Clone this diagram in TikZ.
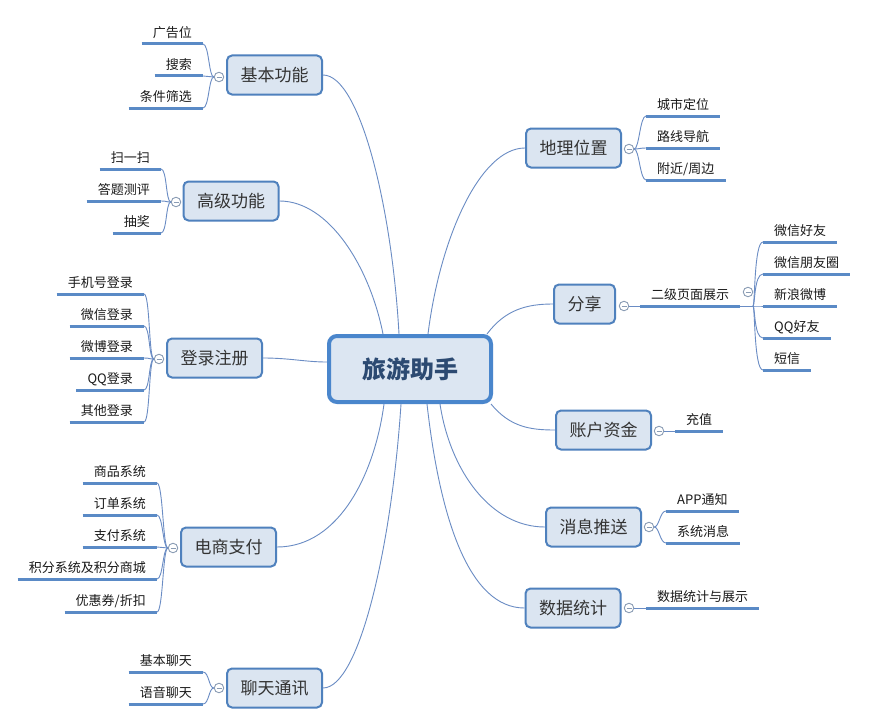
\documentclass[tikz,border=0pt]{standalone}
\usepackage{fontspec}
\setmainfont{Noto Sans CJK SC}
\definecolor{boxfill}{HTML}{DBE5F1}
\definecolor{boxdraw}{HTML}{4F81BD}
\definecolor{rootfill}{HTML}{DCE6F2}
\definecolor{rootdraw}{HTML}{4A86CC}
\definecolor{roottext}{HTML}{2C4A72}
\definecolor{topictext}{HTML}{333333}
\definecolor{leaftext}{HTML}{1A1A1A}
\definecolor{ulinecol}{HTML}{5A8AC6}
\definecolor{conncol}{HTML}{6A8CC4}
\definecolor{collcol}{HTML}{8A9CB4}
\begin{document}
\begin{tikzpicture}[x=1pt,y=-1pt,
  rootbox/.style={draw=rootdraw, fill=rootfill, line width=4pt, rounded corners=8pt,
    minimum width=162pt, minimum height=66pt, inner sep=0pt,
    font=\fontsize{24}{28}\selectfont\bfseries, text=roottext},
  topic/.style={draw=boxdraw, fill=boxfill, line width=2pt, rounded corners=5pt,
    minimum height=39pt, inner xsep=13.5pt, inner ysep=0pt,
    font=\fontsize{17}{20}\selectfont, text=topictext},
  leaf/.style={inner xsep=11pt, inner ysep=3pt, text height=10pt, text depth=3.5pt,
    font=\fontsize{13}{15}\selectfont, text=leaftext},
  lleaf/.style={leaf, anchor=south east},
  rleaf/.style={leaf, anchor=south west},
  uline/.style={draw=ulinecol, line width=3pt},
  conn/.style={draw=conncol, line width=0.9pt},
  coll/.style={circle, draw=collcol, fill=white, line width=0.9pt, minimum size=9.5pt, inner sep=0pt,
    path picture={\draw[collcol, line width=0.8pt] ([xshift=-2.5pt]path picture bounding box.center) -- ([xshift=2.5pt]path picture bounding box.center);}}
]
\useasboundingbox[fill=white] (0,0) rectangle (870,725);

% root
\node[rootbox] (root) at (410,369) {旅游助手};

% topics
\node[topic] (t1) at (274.5,75) {基本功能};
\node[topic] (t2) at (231,201) {高级功能};
\node[topic] (t3) at (214.5,358) {登录注册};
\node[topic] (t4) at (228.5,547) {电商支付};
\node[topic] (t5) at (274.5,688) {聊天通讯};
\node[topic] (t6) at (573.5,148) {地理位置};
\node[topic] (t7) at (584.5,304) {分享};
\node[topic] (t8) at (603.5,430) {账户资金};
\node[topic] (t9) at (593.5,527) {消息推送};
\node[topic] (t10) at (573,608) {数据统计};

% main connectors
\draw[conn] ([xshift=-11pt]root.north) .. controls +(-7,-126) and +(37,0) .. (t1.east);
\draw[conn] ([xshift=-27pt]root.north) .. controls +(-13,-66) and +(50,0) .. (t2.east);
\draw[conn] ([yshift=7pt]root.west) .. controls +(-22,0) and +(27,0) .. (t3.east);
\draw[conn] ([xshift=-26pt]root.south) .. controls +(-9,68) and +(63,0) .. (t4.east);
\draw[conn] ([xshift=-9pt]root.south) .. controls +(-9,138) and +(37,0) .. (t5.east);
\draw[conn] ([xshift=18pt]root.north) .. controls +(12,-96) and +(-45,0) .. (t6.west);
\draw[conn] ([xshift=-6pt]root.north east) .. controls +(18,-24) and +(-27,0) .. (t7.west);
\draw[conn] ([xshift=-2pt]root.south east) .. controls +(19,23) and +(-25,0) .. (t8.west);
\draw[conn] ([xshift=30pt]root.south) .. controls +(10,66) and +(-55,0) .. (t9.west);
\draw[conn] ([xshift=17pt]root.south) .. controls +(13,116) and +(-55,0) .. (t10.west);

% leaves left
\node[lleaf] (l1a) at (203,44) {广告位};
\node[lleaf] (l1b) at (203,76) {搜索};
\node[lleaf] (l1c) at (203,108) {条件筛选};

\node[lleaf] (l2a) at (161,169) {扫一扫};
\node[lleaf] (l2b) at (161,201) {答题测评};
\node[lleaf] (l2c) at (161,233) {抽奖};

\node[lleaf] (l3a) at (144,294) {手机号登录};
\node[lleaf] (l3b) at (144,326) {微信登录};
\node[lleaf] (l3c) at (144,358) {微博登录};
\node[lleaf] (l3d) at (144,390) {QQ登录};
\node[lleaf] (l3e) at (144,422) {其他登录};

\node[lleaf] (l4a) at (157,483) {商品系统};
\node[lleaf] (l4b) at (157,515) {订单系统};
\node[lleaf] (l4c) at (157,547) {支付系统};
\node[lleaf] (l4d) at (157,579) {积分系统及积分商城};
\node[lleaf] (l4e) at (157,612) {优惠券/折扣};

\node[lleaf] (l5a) at (203,672) {基本聊天};
\node[lleaf] (l5b) at (203,704) {语音聊天};

% leaves right
\node[rleaf] (l6a) at (646,116) {城市定位};
\node[rleaf] (l6b) at (646,148) {路线导航};
\node[rleaf] (l6c) at (646,180) {附近/周边};

\node[rleaf] (l7) at (640,306) {二级页面展示};
\node[rleaf] (l7a) at (763,242) {微信好友};
\node[rleaf] (l7b) at (763,274) {微信朋友圈};
\node[rleaf] (l7c) at (763,306) {新浪微博};
\node[rleaf] (l7d) at (763,338) {QQ好友};
\node[rleaf] (l7e) at (763,370) {短信};

\node[rleaf] (l8) at (675,431) {充值};

\node[rleaf] (l9a) at (666,511) {APP通知};
\node[rleaf] (l9b) at (666,543) {系统消息};

\node[rleaf] (l10) at (646,608) {数据统计与展示};

% underlines
\foreach \n in {l1a,l1b,l1c,l2a,l2b,l2c,l3a,l3b,l3c,l3d,l3e,l4a,l4b,l4c,l4d,l4e,l5a,l5b,
  l6a,l6b,l6c,l7,l7a,l7b,l7c,l7d,l7e,l8,l9a,l9b,l10}
  \draw[uline] (\n.south west) -- (\n.south east);

% collapse circles
\node[coll] (c1) at (219,77) {};
\node[coll] (c2) at (176,202) {};
\node[coll] (c3) at (159,359) {};
\node[coll] (c4) at (173,548) {};
\node[coll] (c5) at (219,688) {};
\node[coll] (c6) at (629,149) {};
\node[coll] (c7) at (624,306) {};
\node[coll] (c7b) at (748,292) {};
\node[coll] (c8) at (659,431) {};
\node[coll] (c9) at (649,527) {};
\node[coll] (c10) at (629,608) {};
\coordinate (j7) at (753,306);

% brackets left
\foreach \n in {l1a,l1b,l1c} \draw[conn] (c1.west) .. controls +(-5,0) and +(6,0) .. (\n.south east);
\foreach \n in {l2a,l2b,l2c} \draw[conn] (c2.west) .. controls +(-5,0) and +(6,0) .. (\n.south east);
\foreach \n in {l3a,l3b,l3c,l3d,l3e} \draw[conn] (c3.west) .. controls +(-5,0) and +(6,0) .. (\n.south east);
\foreach \n in {l4a,l4b,l4c,l4d,l4e} \draw[conn] (c4.west) .. controls +(-5,0) and +(6,0) .. (\n.south east);
\foreach \n in {l5a,l5b} \draw[conn] (c5.west) .. controls +(-5,0) and +(6,0) .. (\n.south east);

% brackets right
\foreach \n in {l6a,l6b,l6c} \draw[conn] (c6.east) .. controls +(5,0) and +(-6,0) .. (\n.south west);
\draw[conn] (c7.east) -- (l7.south west);
\draw[conn] (l7.south east) -- (j7);
\foreach \n in {l7a,l7b,l7c,l7d,l7e} \draw[conn] (j7) .. controls +(2,0) and +(-9,0) .. (\n.south west);
\draw[conn] (c8.east) -- (l8.south west);
\foreach \n in {l9a,l9b} \draw[conn] (c9.east) .. controls +(5,0) and +(-6,0) .. (\n.south west);
\draw[conn] (c10.east) -- (l10.south west);
\end{tikzpicture}
\end{document}
